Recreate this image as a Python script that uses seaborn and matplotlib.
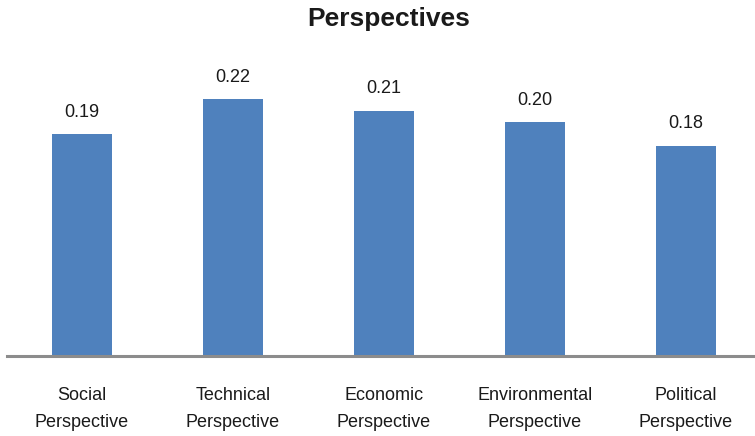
import matplotlib
matplotlib.use("Agg")
import matplotlib.pyplot as plt
import seaborn as sns
import pandas as pd

categories = ["Social\nPerspective", "Technical\nPerspective", "Economic\nPerspective",
              "Environmental\nPerspective", "Political\nPerspective"]
values = [0.19, 0.22, 0.21, 0.20, 0.18]
value_labels = ["0.19", "0.22", "0.21", "0.20", "0.18"]

sns.set_style("white")
plt.rcParams['font.family'] = ['Liberation Sans', 'DejaVu Sans']

df = pd.DataFrame({"cat": categories, "val": values})

fig = plt.figure(figsize=(7.55, 4.36), dpi=100)
ax = fig.add_axes([7/755, 1 - 356/436, 748/755, 292/436])

sns.barplot(data=df, x="cat", y="val", order=categories, color="#4F81BD",
            saturation=1, width=0.397, linewidth=0, ax=ax)

ax.set_xlim(-0.497, 4.457)
ax.set_ylim(0, 0.25)
for s in ["top", "right", "left"]:
    ax.spines[s].set_visible(False)
ax.spines["bottom"].set_color("#8C8C8C")
ax.spines["bottom"].set_linewidth(2.2)
ax.set_yticks([])
ax.set_xlabel("")
ax.set_ylabel("")
ax.tick_params(axis="x", length=0, pad=22, labelsize=13, labelcolor="#1a1a1a")
for t in ax.get_xticklabels():
    t.set_linespacing(1.8)

for p, lab in zip(ax.patches, value_labels):
    x = p.get_x() + p.get_width() / 2
    ax.annotate(lab, (x, p.get_height()), xytext=(0, 15.8), textcoords="offset points",
                ha="center", va="center", fontsize=13, color="#1a1a1a")

fig.text(389/755, 1 - 19/436, "Perspectives", ha="center", va="center",
         fontsize=19, fontweight="bold", color="#1a1a1a")

fig.savefig("out.png", dpi=100)
